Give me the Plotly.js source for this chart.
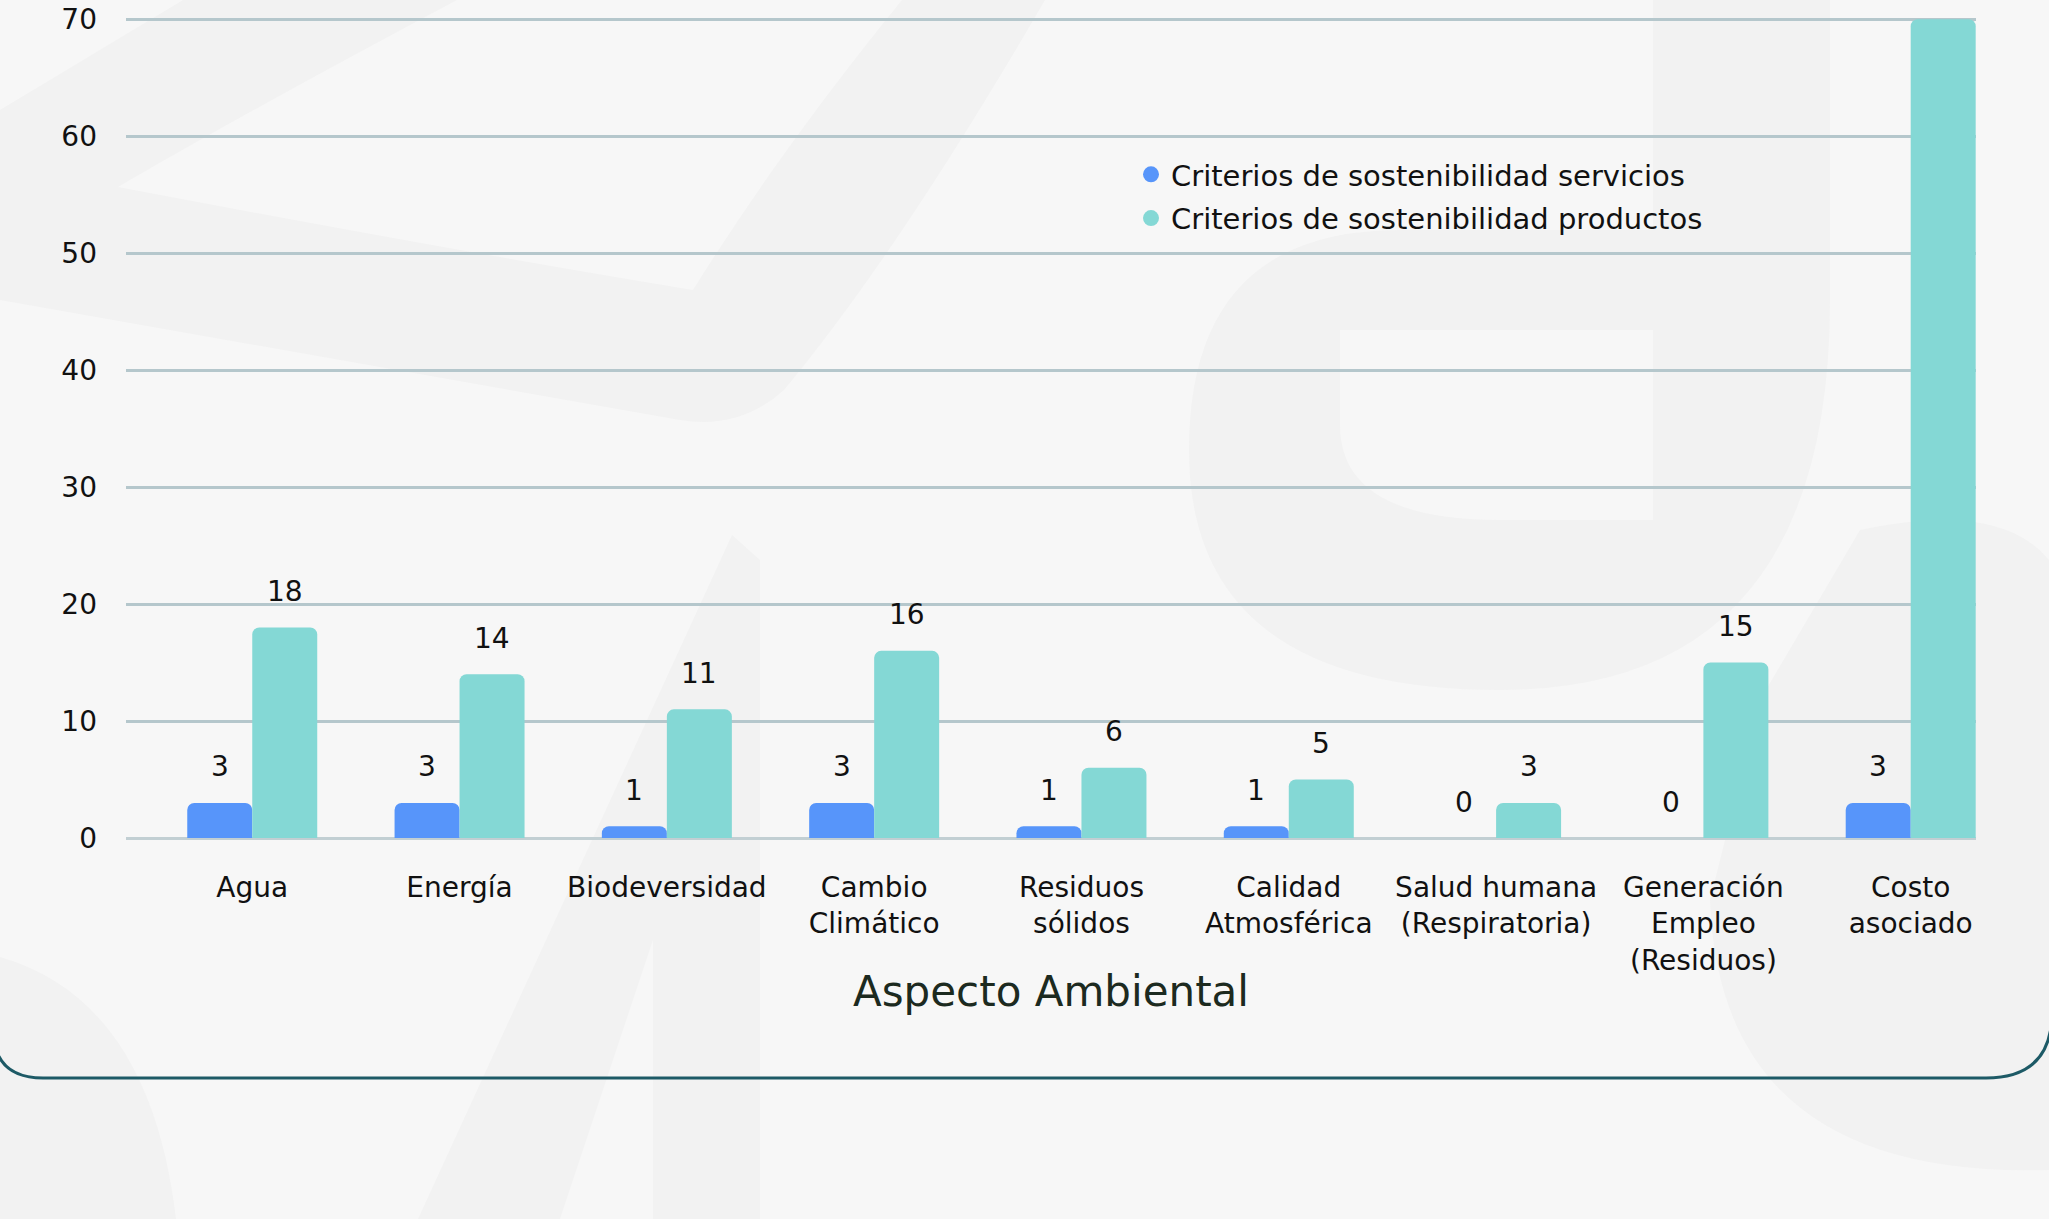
<!DOCTYPE html>
<html>
<head>
<meta charset="utf-8">
<script src="https://cdn.plot.ly/plotly-3.0.1.min.js"></script>
<style>
  html, body { margin: 0; padding: 0; background: #f7f7f7; }
  #chart { width: 2049px; height: 1219px; }
</style>
</head>
<body>
<div id="chart"></div>
<script>
// ---- data ----
const categories = ['Agua', 'Energía', 'Biodeversidad', 'Cambio Climático', 'Residuos sólidos',
  'Calidad Atmosférica', 'Salud humana (Respiratoria)', 'Generación Empleo (Residuos)', 'Costo asociado'];
const tickLabels = ['Agua', 'Energía', 'Biodeversidad', 'Cambio<br>Climático', 'Residuos<br>sólidos',
  'Calidad<br>Atmosférica', 'Salud humana<br>(Respiratoria)', 'Generación<br>Empleo<br>(Residuos)', 'Costo<br>asociado'];
const serviceValues = [3, 3, 1, 3, 1, 1, 0, 0, 3];
const productValues = [18, 14, 11, 16, 6, 5, 3, 15, 70];
const serviceName = 'Criterios de sostenibilidad servicios';
const productName = 'Criterios de sostenibilidad productos';
const yTicks = [0, 10, 20, 30, 40, 50, 60, 70];

// ---- style ----
const FONT = 'DejaVu Sans';
const serviceColor = '#5795fa';
const productColor = '#84d8d5';
const W = 2049, H = 1219;
const M = { l: 126, r: 73, t: 18, b: 381 };
const plotW = W - M.l - M.r, plotH = H - M.t - M.b;
const px2x = p => (p - M.l) / plotW;
const py2y = p => (H - M.b - p) / plotH;
const yMax = 70;

// data labels positioned through the axes
const annotations = [];
const barShift = 32.5;
[[serviceValues, -barShift], [productValues, barShift]].forEach(([vals, shift]) => {
  vals.forEach((v, i) => {
    if (v >= yMax) return; // label falls outside the plotting area (clipped in reference)
    annotations.push({
      x: categories[i], y: v, xref: 'x', yref: 'y',
      xshift: shift, yshift: 36, yanchor: 'middle', xanchor: 'center',
      text: String(v), showarrow: false,
      font: { family: FONT, size: 28, color: '#111111' }
    });
  });
});

// decorative background + bottom frame (paper coordinates)
function pathFromPx(cmds) {
  return cmds.map(c => {
    if (c[0] === 'Z') return 'Z';
    const op = c[0];
    const pts = c.slice(1);
    const out = [];
    for (let k = 0; k < pts.length; k += 2) out.push(px2x(pts[k]).toFixed(5) + ',' + py2y(pts[k + 1]).toFixed(5));
    return op + out.join(' ');
  }).join(' ');
}
const deco = '#f2f2f2';
const shapes = [
  { type: 'path', xref: 'paper', yref: 'paper', layer: 'below', fillcolor: deco, line: { width: 0 },
    path: pathFromPx([['M', 183, 0], ['L', 457, 0], ['Q', 250, 110, 118, 187], ['Q', 450, 250, 693, 290],
      ['Q', 780, 150, 902, 0], ['L', 1045, 0], ['Q', 900, 250, 784, 390], ['Q', 740, 430, 680, 420],
      ['L', 0, 300], ['L', 0, 110], ['Z']]) },
  { type: 'path', xref: 'paper', yref: 'paper', layer: 'below', fillcolor: deco, line: { width: 0 },
    path: pathFromPx([['M', 1653, 0], ['L', 1830, 0], ['L', 1830, 300], ['Q', 1830, 690, 1500, 690],
      ['Q', 1189, 690, 1189, 450], ['Q', 1189, 230, 1400, 230], ['L', 1653, 230], ['Z'],
      ['M', 1340, 330], ['L', 1653, 330], ['L', 1653, 520], ['L', 1500, 520], ['Q', 1340, 520, 1340, 425], ['Z']]) },
  { type: 'path', xref: 'paper', yref: 'paper', layer: 'below', fillcolor: deco, line: { width: 0 },
    path: pathFromPx([['M', 1860, 530], ['Q', 2000, 500, 2049, 560], ['L', 2049, 1219], ['L', 2049, 1170],
      ['Q', 1720, 1180, 1710, 900], ['L', 1760, 700], ['Z']]) },
  { type: 'path', xref: 'paper', yref: 'paper', layer: 'below', fillcolor: deco, line: { width: 0 },
    path: pathFromPx([['M', 732, 535], ['L', 760, 560], ['L', 760, 1219], ['L', 653, 1219], ['L', 653, 940],
      ['L', 560, 1219], ['L', 418, 1219], ['Z']]) },
  { type: 'path', xref: 'paper', yref: 'paper', layer: 'below', fillcolor: deco, line: { width: 0 },
    path: pathFromPx([['M', 0, 957], ['Q', 150, 1000, 176, 1219], ['L', 0, 1219], ['Z']]) },
  { type: 'path', xref: 'paper', yref: 'paper', layer: 'above', line: { color: '#1d5a66', width: 3 },
    path: pathFromPx([['M', -7, -50], ['L', -7, 1028], ['Q', -7, 1078, 43, 1078], ['L', 1986, 1078],
      ['Q', 2052, 1078, 2052, 1012], ['L', 2052, -50]]) }
];

const traces = [
  { type: 'bar', name: serviceName, x: categories, y: serviceValues, marker: { color: serviceColor },
    showlegend: false, legendgroup: 's', hoverinfo: 'x+y' },
  { type: 'bar', name: productName, x: categories, y: productValues, marker: { color: productColor },
    showlegend: false, legendgroup: 'p', hoverinfo: 'x+y' },
  { type: 'scatter', mode: 'markers', name: serviceName, x: [null], y: [null], legendgroup: 's',
    marker: { color: serviceColor, size: 16, symbol: 'circle' } },
  { type: 'scatter', mode: 'markers', name: productName, x: [null], y: [null], legendgroup: 'p',
    marker: { color: productColor, size: 16, symbol: 'circle' } }
];

const layout = {
  width: W, height: H,
  margin: M,
  paper_bgcolor: '#f7f7f7',
  plot_bgcolor: 'rgba(0,0,0,0)',
  font: { family: FONT, size: 28, color: '#111111' },
  barmode: 'group',
  bargap: 0.373,
  bargroupgap: 0,
  barcornerradius: 7,
  showlegend: true,
  legend: {
    x: px2x(1131), y: py2y(149), xanchor: 'left', yanchor: 'top',
    bgcolor: 'rgba(0,0,0,0)', borderwidth: 0,
    font: { family: FONT, size: 29, color: '#111111' },
    tracegroupgap: 3
  },
  xaxis: {
    type: 'category',
    categoryorder: 'array', categoryarray: categories,
    tickvals: categories, ticktext: tickLabels,
    range: [-0.609, 8.315],
    ticks: '', showgrid: false, zeroline: false, showline: false,
    ticklabelstandoff: 30,
    tickfont: { family: FONT, size: 28, color: '#111111' },
    title: { text: 'Aspecto Ambiental', standoff: 0, font: { family: FONT, size: 42, color: '#1c2a20' } }
  },
  yaxis: {
    range: [0, 70.1], tickvals: yTicks, ticks: '',
    showgrid: true, gridcolor: '#b5c7cc', gridwidth: 3,
    zeroline: true, zerolinecolor: '#c2cfd3', zerolinewidth: 3,
    showline: false, ticklabelstandoff: 28,
    tickfont: { family: FONT, size: 28, color: '#111111' }
  },
  annotations: annotations,
  shapes: shapes
};

Plotly.newPlot('chart', traces, layout, { displayModeBar: false, staticPlot: true });
</script>
</body>
</html>
